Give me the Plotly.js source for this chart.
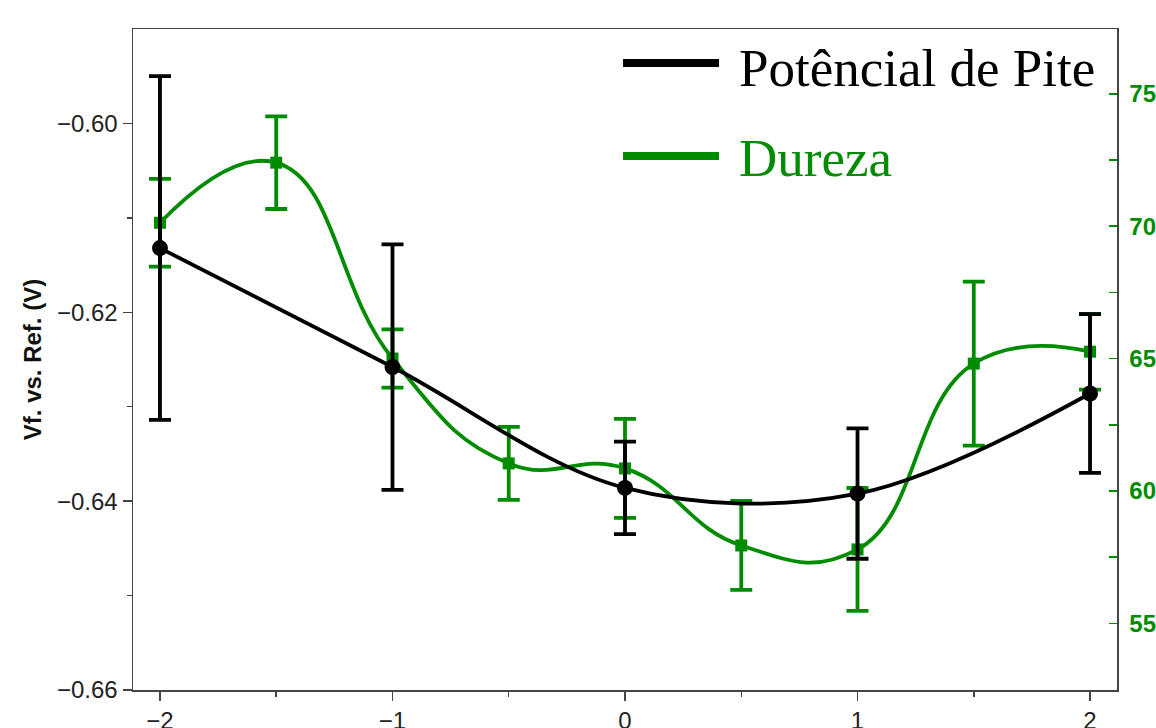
<!DOCTYPE html>
<html>
<head>
<meta charset="utf-8">
<script src="https://cdn.plot.ly/plotly-3.0.1.min.js"></script>
<style>html,body{margin:0;padding:0;background:#fff;}#chart{width:1156px;height:728px;}</style>
</head>
<body>
<div id="chart"></div>
<script>
// Data
const potX = [-2, -1, 0, 1, 2];
const potY = [-0.6132, -0.6258, -0.6386, -0.6392, -0.6286];
const potErr = [0.0182, 0.0130, 0.0049, 0.0069, 0.0084];

const durX = [-2, -1.5, -1, -0.5, 0, 0.5, 1, 1.5, 2];
const durY = [70.13, 72.40, 65.0, 61.04, 60.85, 57.94, 57.79, 64.81, 65.26];
const durErr = [1.66, 1.75, 1.1, 1.38, 1.87, 1.68, 2.32, 3.1, 1.43];

const xTicks = [-2, -1, 0, 1, 2];
const leftTicks = [-0.66, -0.64, -0.62, -0.60];
const rightTicks = [55, 60, 65, 70, 75];

const legendNames = ['Potêncial de Pite', 'Dureza'];
const yTitle = 'Vf. vs. Ref. (V)';

const BLACK = '#000000';
const GREEN = '#008c00';
const AX = '#444444';

const traces = [
  {
    x: durX, y: durY, yaxis: 'y', type: 'scatter', mode: 'lines+markers',
    name: legendNames[1],
    line: {color: GREEN, width: 3.8, shape: 'spline', smoothing: 1.3},
    marker: {symbol: 'square', size: 12, color: GREEN},
    error_y: {type: 'data', array: durErr, visible: true, color: GREEN, thickness: 3.8, width: 11},
    showlegend: false
  },
  {
    x: potX, y: potY, yaxis: 'y2', type: 'scatter', mode: 'lines+markers',
    name: legendNames[0],
    line: {color: BLACK, width: 3.8, shape: 'spline', smoothing: 1},
    marker: {symbol: 'circle', size: 16, color: BLACK},
    error_y: {type: 'data', array: potErr, visible: true, color: BLACK, thickness: 3.8, width: 11},
    showlegend: false
  }
];

const layout = {
  width: 1156, height: 728,
  margin: {l: 133, r: 39, t: 29, b: 38},
  paper_bgcolor: '#ffffff', plot_bgcolor: '#ffffff',
  font: {family: 'Liberation Sans, Arial, sans-serif', color: '#222'},
  showlegend: false,
  xaxis: {
    range: [-2.116, 2.116], tickvals: xTicks, ticks: 'outside', ticklen: 9, tickwidth: 1.5, tickcolor: AX,
    showline: true, linecolor: AX, linewidth: 1.5, mirror: true, showgrid: false, zeroline: false,
    tickfont: {size: 24, color: '#222'},
    minor: {tickvals: [-1.5, -0.5, 0.5, 1.5], ticks: 'outside', ticklen: 5, tickwidth: 1.5, tickcolor: AX, showgrid: false}
  },
  yaxis: {
    side: 'right', range: [52.48, 77.45], tickvals: rightTicks, ticks: 'inside', ticklen: 8, tickwidth: 1.5, tickcolor: GREEN,
    showline: true, linecolor: AX, linewidth: 1.5, showgrid: false, zeroline: false,
    tickfont: {size: 24, color: GREEN, weight: 'bold'}, ticklabelstandoff: 6,
    minor: {tickvals: [52.5, 57.5, 62.5, 67.5, 72.5], ticks: 'inside', ticklen: 8, tickwidth: 1.5, tickcolor: GREEN, showgrid: false}
  },
  yaxis2: {
    overlaying: 'y', side: 'left', range: [-0.66, -0.59], tickvals: leftTicks, tickformat: '.2f',
    ticks: 'outside', ticklen: 9, tickwidth: 1.5, tickcolor: AX,
    showline: true, linecolor: AX, linewidth: 1.5, showgrid: false, zeroline: false,
    tickfont: {size: 24, color: '#222'},
    title: {text: yTitle, font: {size: 24, weight: 'bold', color: '#111'}, standoff: 8},
    minor: {tickvals: [-0.65, -0.63, -0.61], ticks: 'outside', ticklen: 5, tickwidth: 1.5, tickcolor: AX, showgrid: false}
  },
  shapes: [
    {type: 'line', xref: 'paper', yref: 'paper', x0: 0.498, x1: 0.5955, y0: 0.9486, y1: 0.9486, line: {color: BLACK, width: 8}},
    {type: 'line', xref: 'paper', yref: 'paper', x0: 0.498, x1: 0.5955, y0: 0.8079, y1: 0.8079, line: {color: GREEN, width: 8}}
  ],
  annotations: [
    {xref: 'paper', yref: 'paper', x: 0.6138, y: 0.941, xanchor: 'left', yanchor: 'middle', showarrow: false,
     text: legendNames[0], font: {family: 'Liberation Serif, Times New Roman, serif', size: 53, color: BLACK}},
    {xref: 'paper', yref: 'paper', x: 0.6138, y: 0.805, xanchor: 'left', yanchor: 'middle', showarrow: false,
     text: legendNames[1], font: {family: 'Liberation Serif, Times New Roman, serif', size: 53, color: GREEN}}
  ]
};

Plotly.newPlot('chart', traces, layout, {displayModeBar: false, staticPlot: true});
</script>
</body>
</html>
